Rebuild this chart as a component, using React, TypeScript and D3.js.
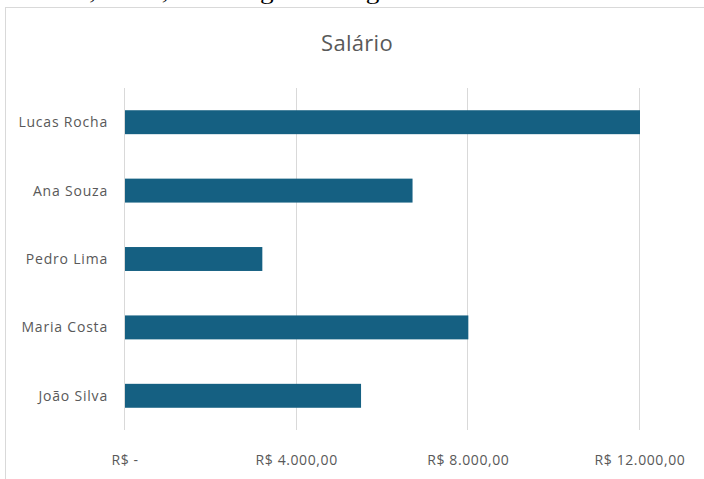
import React, { useEffect, useRef } from "react";
import * as d3 from "d3";

const categories = ["Lucas Rocha", "Ana Souza", "Pedro Lima", "Maria Costa", "João Silva"];
const salaries = [12000, 6700, 3200, 8000, 5500];
const tickValues = [0, 4000, 8000, 12000];
const tickLabels = ["R$ -", "R$ 4.000,00", "R$ 8.000,00", "R$ 12.000,00"];
const title = "Salário";
const topText = "usuário, então, este irá gerar o seguinte resultado:";

export default function App() {
  const ref = useRef<SVGSVGElement>(null);

  useEffect(() => {
    const svg = d3.select(ref.current);
    svg.selectAll("*").remove();
    const W = 704, H = 479;
    const font = "'Open Sans', Lato, sans-serif";
    const gray = "#595959";

    svg.append("rect").attr("width", W).attr("height", H).attr("fill", "#fff");

    // clipped document text at top (only its lower edge is visible)
    svg.append("text")
      .attr("x", 9).attr("y", -1)
      .attr("font-family", "'Liberation Serif', serif")
      .attr("font-size", 20)
      .attr("fill", "#000")
      .attr("textLength", 539)
      .attr("lengthAdjust", "spacingAndGlyphs")
      .text(topText);

    // chart area
    svg.append("rect")
      .attr("x", 5.5).attr("y", 7.5).attr("width", W + 10).attr("height", H + 10)
      .attr("fill", "#fff").attr("stroke", "#d9d9d9").attr("stroke-width", 1);

    const x = d3.scaleLinear().domain([0, 12000]).range([124, 639]);
    const y = d3.scaleBand<string>().domain(categories).range([88, 430]).padding(0);
    const barH = y.bandwidth() * 0.35;

    // gridlines
    svg.append("g").selectAll("line").data(tickValues).join("line")
      .attr("x1", d => Math.round(x(d)) + 0.5).attr("x2", d => Math.round(x(d)) + 0.5)
      .attr("y1", 88).attr("y2", 430)
      .attr("stroke", "#d9d9d9").attr("stroke-width", 1);

    // bars
    svg.append("g").selectAll("rect").data(categories).join("rect")
      .attr("x", x(0) + 1)
      .attr("y", d => (y(d) as number) + y.bandwidth() / 2 - barH / 2)
      .attr("width", (d, i) => x(salaries[i]) - x(0))
      .attr("height", barH)
      .attr("fill", "#156082");

    // category labels
    svg.append("g").selectAll("text").data(categories).join("text")
      .attr("x", 108)
      .attr("y", d => (y(d) as number) + y.bandwidth() / 2)
      .attr("dy", "0.35em")
      .attr("text-anchor", "end")
      .attr("font-family", font).attr("font-size", 14).attr("fill", gray)
      .attr("letter-spacing", 0.8)
      .text(d => d);

    // x tick labels
    svg.append("g").selectAll("text").data(tickValues).join("text")
      .attr("x", (d) => x(d) + 1)
      .attr("y", 460)
      .attr("dy", "0.35em")
      .attr("text-anchor", "middle")
      .attr("font-family", font).attr("font-size", 14).attr("fill", gray)
      .attr("letter-spacing", 0.6)
      .text((d, i) => tickLabels[i]);

    // title
    svg.append("text")
      .attr("x", 357).attr("y", 43).attr("dy", "0.35em")
      .attr("text-anchor", "middle")
      .attr("font-family", font).attr("font-size", 22).attr("fill", gray)
      .attr("letter-spacing", 0.3)
      .text(title);
  }, []);

  return (
    <div style={{ position: "absolute", left: 0, top: 0 }}>
      <svg ref={ref} width={704} height={479} style={{ display: "block" }} />
    </div>
  );
}
